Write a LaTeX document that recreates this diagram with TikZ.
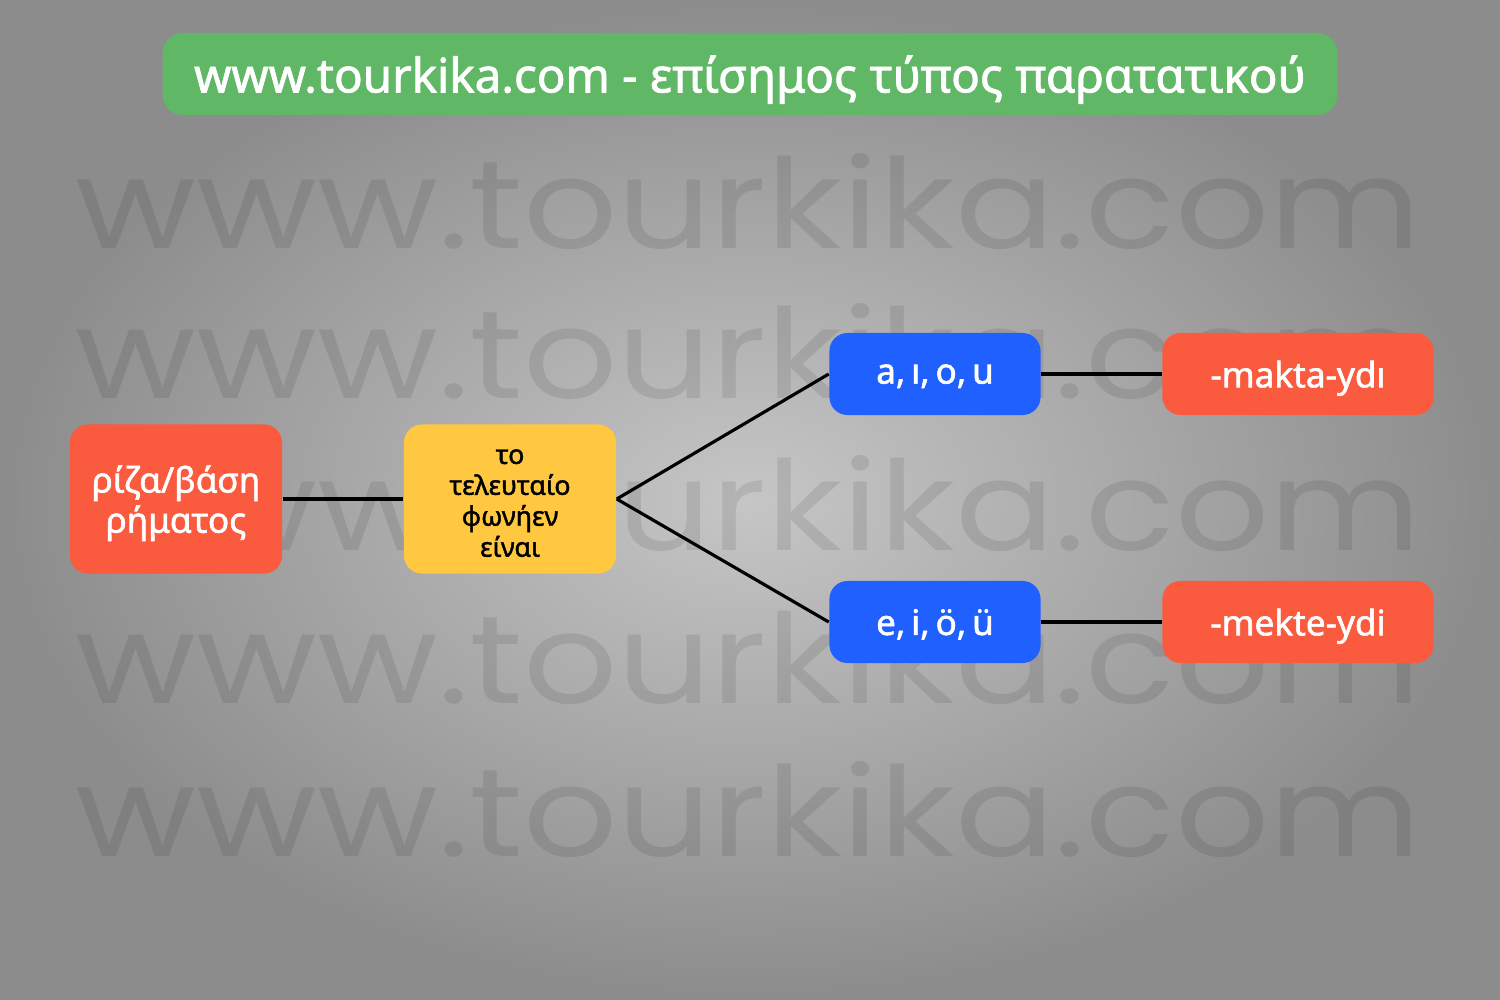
\documentclass[tikz,border=0pt]{standalone}
\usepackage{fontspec}
\setmainfont{Noto Sans}
\newfontfamily\medfont[FakeBold=1.6]{Noto Sans}
\newfontfamily\markfont{Poppins}

\definecolor{titlegreen}{RGB}{96,183,101}
\definecolor{boxred}{RGB}{250,90,62}
\definecolor{boxyellow}{RGB}{255,200,64}
\definecolor{boxblue}{RGB}{32,96,255}
\definecolor{bgin}{RGB}{198,198,198}
\definecolor{bgout}{RGB}{140,140,140}

\tikzset{
  box/.style={rectangle, rounded corners=0.18cm, inner sep=0pt, align=center,
    text depth=0pt, text=white, font=\medfont\fontsize{10pt}{11.4pt}\selectfont},
  bigbox/.style={box, minimum width=2.12cm, minimum height=1.49cm},
  smallbox/.style={box, minimum width=2.11cm, minimum height=0.82cm},
  widebox/.style={box, minimum width=2.71cm, minimum height=0.82cm},
  edge/.style={line width=0.9pt, black},
  watermark/.style={anchor=base west, inner sep=0pt, text=black, text opacity=0.09}
}

\begin{document}
\begin{tikzpicture}[x=0.01cm, y=-0.01cm]
  \useasboundingbox (0,0) rectangle (1500,1000);
  % Background
  \shade[inner color=bgin, outer color=bgout] (0,0) rectangle (1500,1000);
  \foreach \yy in {248,398,550,703,856}
    \node[watermark] at (75,\yy) {\resizebox{13.45cm}{0.95cm}{\markfont www.tourkika.com}};

  % Title
  \node[box, fill=titlegreen, minimum width=11.74cm, minimum height=0.82cm,
    rounded corners=0.2cm, font=\medfont\fontsize{13.5pt}{14pt}\selectfont]
    (title) at (750,74) {www.tourkika.com - επίσημος τύπος παρατατικού};

  % Nodes
  \node[bigbox, fill=boxred] (riza) at (176,499) {ρίζα/βάση\\ρήματος};
  \node[bigbox, fill=boxyellow, text=black,
    font=\medfont\fontsize{7.6pt}{8.8pt}\selectfont] (vowel) at (510,499)
    {\rule{0pt}{6.4pt}το\\τελευταίο\\φωνήεν\\είναι};
  \node[smallbox, fill=boxblue] (back) at (935,374) {a,\,ı,\,o,\,u};
  \node[smallbox, fill=boxblue] (front) at (935,622) {e,\,i,\,ö,\,ü};
  \node[widebox, fill=boxred] (makta) at (1298,374) {-makta-ydı};
  \node[widebox, fill=boxred] (mekte) at (1298,622) {-mekte-ydi};

  % Edges
  \draw[edge] (riza) -- (vowel);
  \draw[edge] (vowel.east) -- (back.west);
  \draw[edge] (vowel.east) -- (front.west);
  \draw[edge] (back) -- (makta);
  \draw[edge] (front) -- (mekte);
\end{tikzpicture}
\end{document}
